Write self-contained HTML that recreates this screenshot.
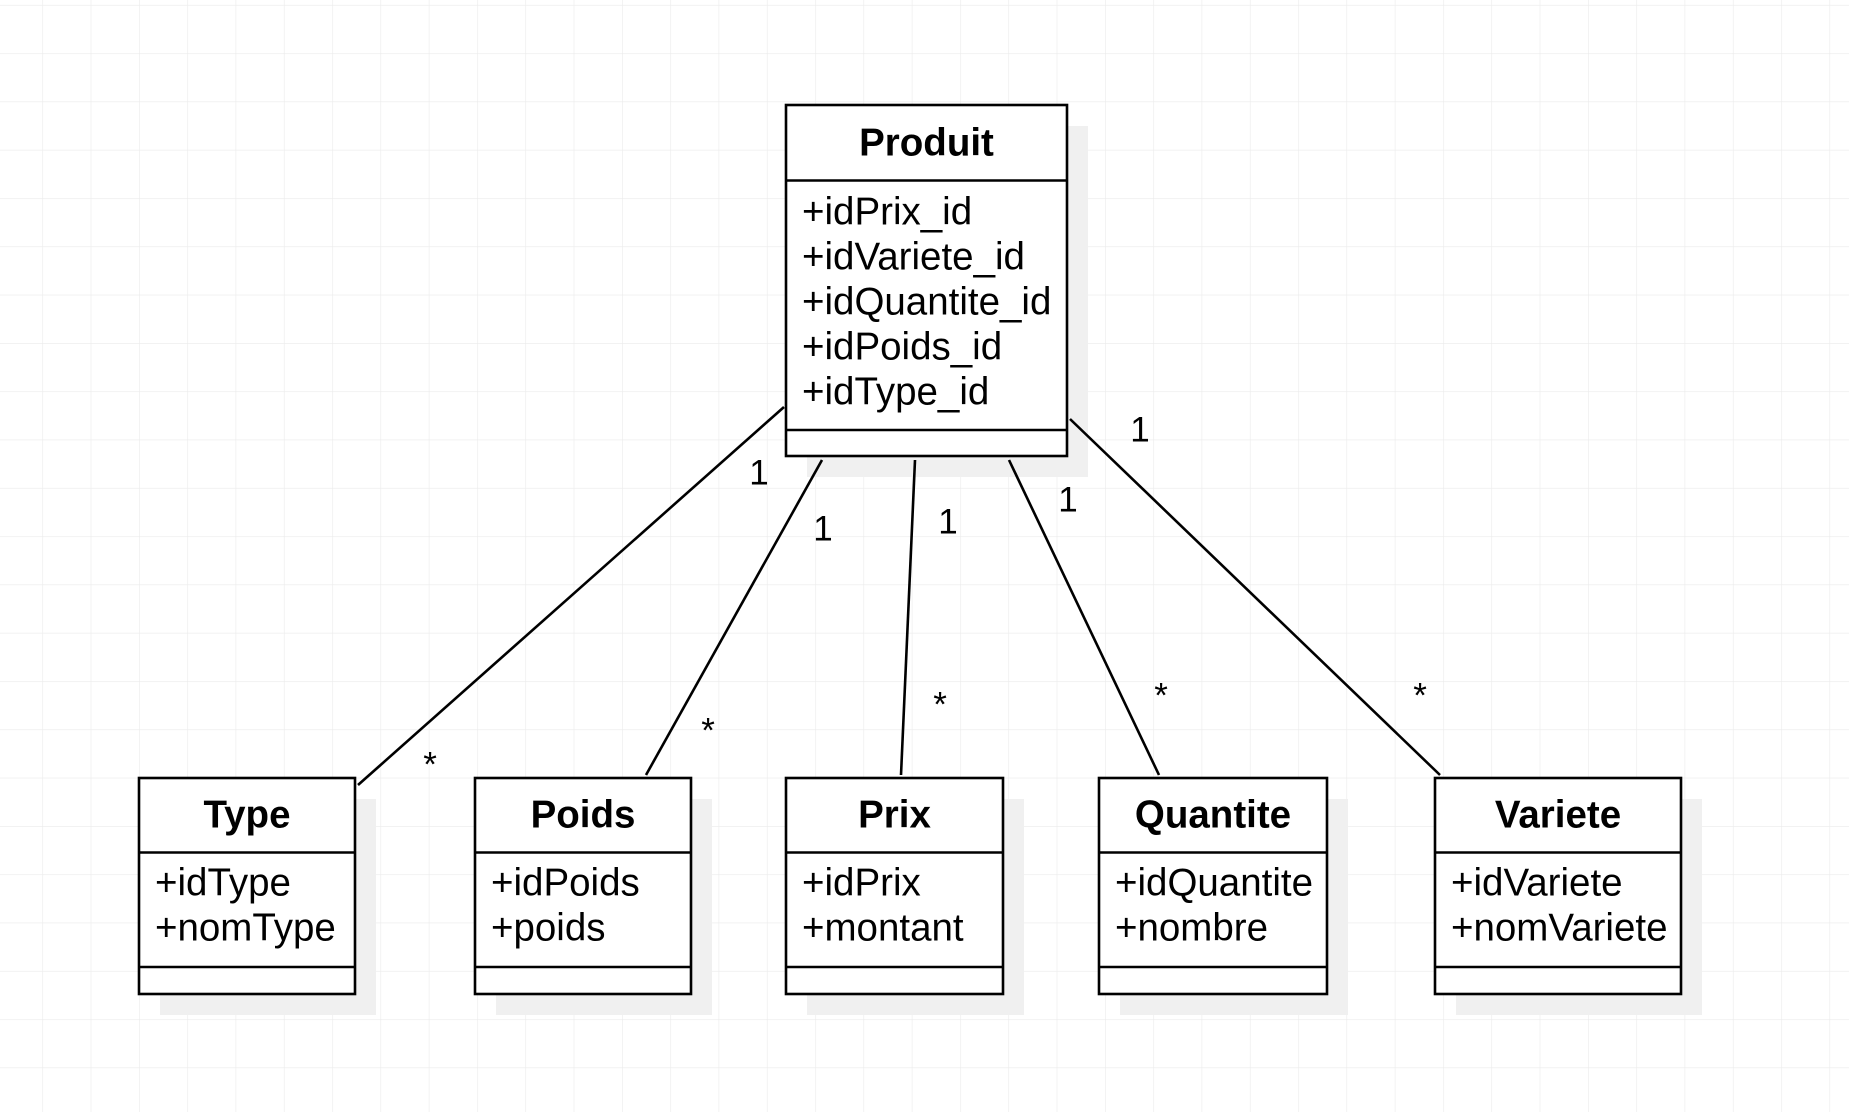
<!DOCTYPE html>
<html><head><meta charset="utf-8"><style>
html,body{margin:0;padding:0;background:#fff}
svg{display:block}
text{font-family:"Liberation Sans",sans-serif;fill:#000}
</style></head><body>
<svg width="1849" height="1112" viewBox="0 0 1849 1112" xmlns="http://www.w3.org/2000/svg">
<defs>
<pattern id="g" x="42.4" y="4.9" width="48.3" height="48.3" patternUnits="userSpaceOnUse">
<path d="M0 0H48.3M0 0V48.3" stroke="#ebebeb" stroke-width="1.2" fill="none"/>
</pattern>
</defs>
<rect width="1849" height="1112" fill="url(#g)"/>
<g fill="#f0f0f0">
<rect x="807" y="126" width="281" height="351"/>
<rect x="160" y="799" width="216" height="216"/>
<rect x="496" y="799" width="216" height="216"/>
<rect x="807" y="799" width="217" height="216"/>
<rect x="1120" y="799" width="228" height="216"/>
<rect x="1456" y="799" width="246" height="216"/>
</g>
<g stroke="#000" stroke-width="2.6" fill="#fff">
<rect x="786" y="105" width="281" height="351"/>
<line x1="786" y1="180.5" x2="1067" y2="180.5"/>
<line x1="786" y1="430" x2="1067" y2="430"/>
<rect x="139" y="778" width="216" height="216"/>
<line x1="139" y1="852.5" x2="355" y2="852.5"/>
<line x1="139" y1="967" x2="355" y2="967"/>
<rect x="475" y="778" width="216" height="216"/>
<line x1="475" y1="852.5" x2="691" y2="852.5"/>
<line x1="475" y1="967" x2="691" y2="967"/>
<rect x="786" y="778" width="217" height="216"/>
<line x1="786" y1="852.5" x2="1003" y2="852.5"/>
<line x1="786" y1="967" x2="1003" y2="967"/>
<rect x="1099" y="778" width="228" height="216"/>
<line x1="1099" y1="852.5" x2="1327" y2="852.5"/>
<line x1="1099" y1="967" x2="1327" y2="967"/>
<rect x="1435" y="778" width="246" height="216"/>
<line x1="1435" y1="852.5" x2="1681" y2="852.5"/>
<line x1="1435" y1="967" x2="1681" y2="967"/>
<line x1="784" y1="407" x2="358" y2="785"/>
<line x1="822" y1="460" x2="646" y2="775"/>
<line x1="915" y1="460" x2="901" y2="775"/>
<line x1="1009" y1="460" x2="1159" y2="775"/>
<line x1="1070" y1="419" x2="1440" y2="775"/>
</g>
<g font-size="38.5" font-weight="bold" text-anchor="middle" dominant-baseline="central">
<text x="926.5" y="143">Produit</text>
<text x="247" y="815">Type</text>
<text x="583" y="815">Poids</text>
<text x="894.5" y="815">Prix</text>
<text x="1213" y="815">Quantite</text>
<text x="1558" y="815">Variete</text>
</g>
<g font-size="38.5" dominant-baseline="central">
<text x="802" y="212">+idPrix_id</text>
<text x="802" y="257">+idVariete_id</text>
<text x="802" y="302">+idQuantite_id</text>
<text x="802" y="347">+idPoids_id</text>
<text x="802" y="392">+idType_id</text>
<text x="155" y="883">+idType</text>
<text x="155" y="928">+nomType</text>
<text x="491" y="883">+idPoids</text>
<text x="491" y="928">+poids</text>
<text x="802" y="883">+idPrix</text>
<text x="802" y="928">+montant</text>
<text x="1115" y="883">+idQuantite</text>
<text x="1115" y="928">+nombre</text>
<text x="1451" y="883">+idVariete</text>
<text x="1451" y="928">+nomVariete</text>
</g>
<g font-size="35" text-anchor="middle" dominant-baseline="central">
<text x="759" y="473">1</text>
<text x="823" y="529">1</text>
<text x="948" y="522">1</text>
<text x="1068" y="500">1</text>
<text x="1140" y="430">1</text>
<text x="430" y="765">*</text>
<text x="708" y="731">*</text>
<text x="940" y="705">*</text>
<text x="1161" y="696">*</text>
<text x="1420" y="696">*</text>
</g>
</svg>
</body></html>
